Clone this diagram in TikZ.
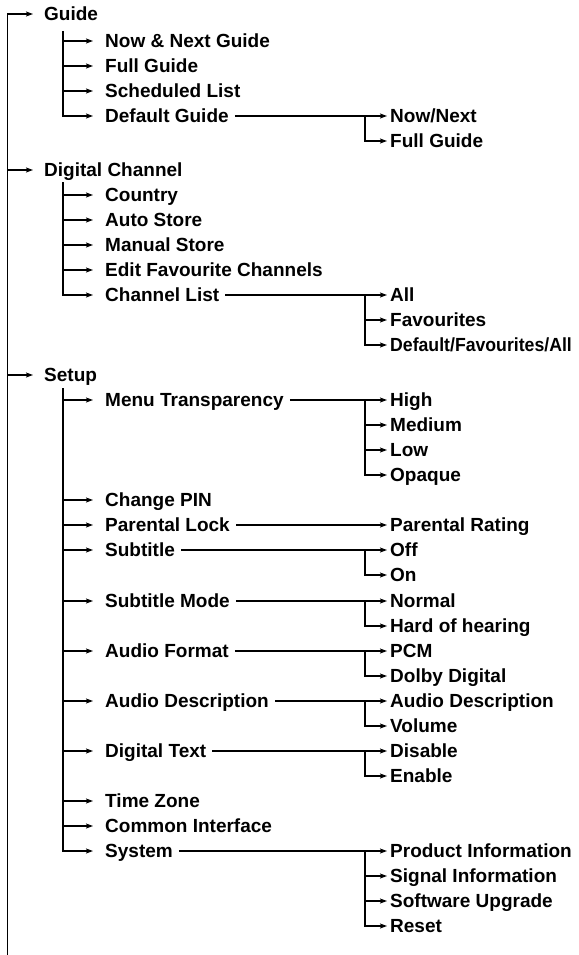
\documentclass[tikz,border=0pt]{standalone}
\usepackage{fontspec}
\setmainfont{Liberation Sans}
\usetikzlibrary{arrows.meta}

\newcommand{\menufont}{\fontsize{19}{22}\selectfont\bfseries}

\begin{document}
\begin{tikzpicture}[x=1pt, y=-1pt, >={Stealth[length=7pt,width=5pt,inset=1.5pt]},
  menu/.style={anchor=west, inner sep=0pt, text height=13.6pt, text depth=0pt, font=\menufont},
  wire/.style={line width=1.2pt}]

  \useasboundingbox (0,0) rectangle (578,955);

  % --- 1. trunk and top level ---
  \coordinate (bottom) at (7.5,955);
  \node[menu] (guide)   at (44,14)  {Guide};
  \node[menu] (digital) at (44,170) {Digital Channel};
  \node[menu] (setup)   at (44,375) {Setup};

  \draw[wire,->] (bottom) |- ([xshift=-11pt]guide.west);
  \foreach \n in {digital,setup}
    \draw[wire,->] (bottom |- \n.west) -- ([xshift=-11pt]\n.west);

  % x of the third-level forks
  \coordinate (fork) at (365,0);

  % --- 2. Guide ---
  \foreach \n/\y/\t in {nownext/41/Now \& Next Guide, fullguide/66/Full Guide,
      schedlist/91/Scheduled List, defguide/116/Default Guide}
    \node[menu] (\n) at (105,\y) {\t};
  \coordinate (guidestem) at (63,31);
  \draw[wire,->] (guidestem) |- ([xshift=-12pt]defguide.west);
  \foreach \n in {nownext,fullguide,schedlist}
    \draw[wire,->] (guidestem |- \n.west) -- ([xshift=-12pt]\n.west);

  % Default Guide
  \node[menu] (nownextb)   at (390,116) {Now/Next};
  \node[menu] (fullguideb) at (390,141) {Full Guide};
  \draw[wire,->] ([xshift=6pt]defguide.east) -- ([xshift=-3pt]nownextb.west);
  \draw[wire,->] (fork |- nownextb.west) |- ([xshift=-3pt]fullguideb.west);

  % --- 3. Digital Channel ---
  \foreach \n/\y/\t in {country/195/Country, autostore/220/Auto Store,
      manstore/245/Manual Store, editfav/270/Edit Favourite Channels,
      chlist/295/Channel List}
    \node[menu] (\n) at (105,\y) {\t};
  \coordinate (digitalstem) at (63,182);
  \draw[wire,->] (digitalstem) |- ([xshift=-12pt]chlist.west);
  \foreach \n in {country,autostore,manstore,editfav}
    \draw[wire,->] (digitalstem |- \n.west) -- ([xshift=-12pt]\n.west);

  % Channel List
  \node[menu] (all)       at (390,295) {All};
  \node[menu] (favs)      at (390,320) {Favourites};
  \node[menu] (deffavall) at (390,345) {\scalebox{0.93}[1]{Default/Favourites/All}};
  \draw[wire,->] ([xshift=6pt]chlist.east) -- ([xshift=-3pt]all.west);
  \draw[wire,->] (fork |- all.west) |- ([xshift=-3pt]deffavall.west);
  \draw[wire,->] (fork |- favs.west) -- ([xshift=-3pt]favs.west);

  % --- 4. Setup ---
  \foreach \n/\y/\t in {menutrans/400/Menu Transparency, changepin/500/Change PIN,
      parlock/525/Parental Lock, subtitle/550/Subtitle, submode/601/Subtitle Mode,
      audfmt/651/Audio Format, auddesc/701/Audio Description, digtext/751/Digital Text,
      timezone/801/Time Zone, common/826/Common Interface, system/851/System}
    \node[menu] (\n) at (105,\y) {\t};
  \coordinate (setupstem) at (63,388);
  \draw[wire,->] (setupstem) |- ([xshift=-12pt]system.west);
  \foreach \n in {menutrans,changepin,parlock,subtitle,submode,audfmt,auddesc,
      digtext,timezone,common}
    \draw[wire,->] (setupstem |- \n.west) -- ([xshift=-12pt]\n.west);

  % Menu Transparency
  \node[menu] (high)   at (390,400) {High};
  \node[menu] (medium) at (390,425) {Medium};
  \node[menu] (low)    at (390,450) {Low};
  \node[menu] (opaque) at (390,475) {Opaque};
  \draw[wire,->] ([xshift=6pt]menutrans.east) -- ([xshift=-3pt]high.west);
  \draw[wire,->] (fork |- high.west) |- ([xshift=-3pt]opaque.west);
  \foreach \n in {medium,low}
    \draw[wire,->] (fork |- \n.west) -- ([xshift=-3pt]\n.west);

  % Parental Lock
  \node[menu] (parrating) at (390,525) {Parental Rating};
  \draw[wire,->] ([xshift=6pt]parlock.east) -- ([xshift=-3pt]parrating.west);

  % Subtitle
  \node[menu] (off) at (390,550) {Off};
  \node[menu] (on)  at (390,575) {On};
  \draw[wire,->] ([xshift=6pt]subtitle.east) -- ([xshift=-3pt]off.west);
  \draw[wire,->] (fork |- off.west) |- ([xshift=-3pt]on.west);

  % Subtitle Mode
  \node[menu] (normal) at (390,601) {Normal};
  \node[menu] (hard)   at (390,626) {Hard of hearing};
  \draw[wire,->] ([xshift=6pt]submode.east) -- ([xshift=-3pt]normal.west);
  \draw[wire,->] (fork |- normal.west) |- ([xshift=-3pt]hard.west);

  % Audio Format
  \node[menu] (pcm)   at (390,651) {PCM};
  \node[menu] (dolby) at (390,676) {Dolby Digital};
  \draw[wire,->] ([xshift=6pt]audfmt.east) -- ([xshift=-3pt]pcm.west);
  \draw[wire,->] (fork |- pcm.west) |- ([xshift=-3pt]dolby.west);

  % Audio Description
  \node[menu] (auddescb) at (390,701) {Audio Description};
  \node[menu] (volume)   at (390,726) {Volume};
  \draw[wire,->] ([xshift=6pt]auddesc.east) -- ([xshift=-3pt]auddescb.west);
  \draw[wire,->] (fork |- auddescb.west) |- ([xshift=-3pt]volume.west);

  % Digital Text
  \node[menu] (disable) at (390,751) {Disable};
  \node[menu] (enable)  at (390,776) {Enable};
  \draw[wire,->] ([xshift=6pt]digtext.east) -- ([xshift=-3pt]disable.west);
  \draw[wire,->] (fork |- disable.west) |- ([xshift=-3pt]enable.west);

  % System
  \node[menu] (product)  at (390,851) {Product Information};
  \node[menu] (signal)   at (390,876) {Signal Information};
  \node[menu] (software) at (390,901) {Software Upgrade};
  \node[menu] (reset)    at (390,926) {Reset};
  \draw[wire,->] ([xshift=6pt]system.east) -- ([xshift=-3pt]product.west);
  \draw[wire,->] (fork |- product.west) |- ([xshift=-3pt]reset.west);
  \foreach \n in {signal,software}
    \draw[wire,->] (fork |- \n.west) -- ([xshift=-3pt]\n.west);

\end{tikzpicture}
\end{document}
